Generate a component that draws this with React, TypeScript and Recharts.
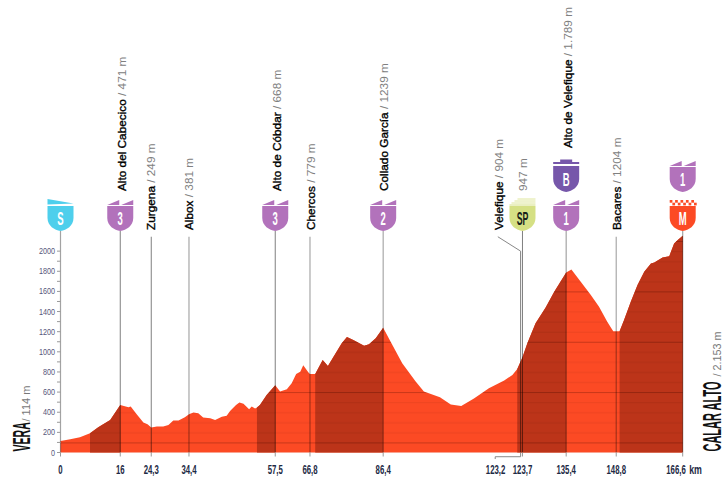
import {Area, ComposedChart, ReferenceDot, ReferenceLine, XAxis, YAxis} from "recharts";

// profile: km / metres
const km = [
    0, 2.6, 5.2, 7.9, 10.1, 13.3, 16, 18.2, 18.8, 20.4, 22.2, 23.3, 24.3, 25.8, 27.5, 28.9, 30.2, 31.6, 33.3, 34.4,
    35.6, 36.9, 38.2, 40.1, 41.4, 43.2, 44.5, 45.4, 47, 47.9, 49, 50.5, 51.2, 52.1, 52.6, 53.4, 55.2, 57.5, 58.8, 60.6,
    61.9, 63.1, 64.2, 65, 66.4, 66.8, 68.2, 70.2, 71.6, 73.1, 75.3, 76.7, 78.4, 81.3, 82.6, 84.4, 86.4, 88.4, 91.5, 95.1,
    97.3, 101.6, 104.5, 107.3, 110.7, 114.7, 118.8, 121, 122.3, 123.2, 123.7, 125, 127.2, 129.9, 132.2, 135.4, 136.8, 139.3, 142, 144.2,
    146.4, 148, 148.8, 149.7, 150.9, 152.7, 154.5, 156.3, 158.1, 159, 161.2, 163, 164.3, 165.2, 166.6,
];
const altitude = [
    114, 132, 152, 192, 251, 324, 471, 450, 456, 380, 297, 280, 249, 258, 258, 274, 317, 317, 350, 381,
    397, 390, 347, 340, 324, 354, 364, 413, 473, 496, 483, 430, 456, 437, 446, 473, 572, 668, 605, 628,
    688, 780, 803, 866, 794, 779, 780, 919, 860, 952, 1084, 1147, 1117, 1060, 1074, 1134, 1239, 1101, 886, 704,
    605, 549, 476, 463, 536, 638, 714, 770, 830, 904, 947, 1084, 1283, 1441, 1597, 1789, 1818, 1696, 1564, 1448,
    1299, 1204, 1204, 1204, 1316, 1498, 1663, 1795, 1878, 1888, 1937, 1950, 2076, 2109, 2153,
];
const climbs = [[7.9, 16], [52.6, 57.5], [68.2, 86.4], [122.3, 135.4], [149.7, 166.6]];

const xTicks = [0, 16, 24.3, 34.4, 57.5, 66.8, 86.4, 123.2, 123.7, 135.4, 148.8, 166.6];
const yTicks = [0, 100, 200, 300, 400, 500, 600, 700, 800, 900, 1000, 1100, 1200, 1300, 1400, 1500, 1600, 1700, 1800, 1900, 2000];

const placeKm = [16, 24.3, 34.4, 57.5, 66.8, 86.4, 123.2, 123.7, 135.4, 148.8];
const placeNames = ["Alto del Cabecico", "Zurgena", "Albox", "Alto de Cóbdar", "Chercos", "Collado García", "Velefique", "", "Alto de Velefique", "Bacares"];
const placeHeights = ["471 m", "249 m", "381 m", "668 m", "779 m", "1239 m", "904 m", "947 m", "1.789 m", "1204 m"];

// layout: altitude on the y scale used to stand things above the profile
const LOW = 2200;
const HIGH = 2587;
const TOP = 3014;
const STEM = 2143;

const labelBase = [HIGH, LOW, LOW, HIGH, LOW, HIGH, LOW, HIGH, TOP, LOW];
const labelShift = [5.5, 4, 4, 5.5, 5, 5, -17.5, 4.8, 5.8, 4.5];

const badges = [
    {km: 0, kind: "start", text: "S", base: LOW},
    {km: 16, kind: "climb", text: "3", base: LOW},
    {km: 57.5, kind: "climb", text: "3", base: LOW},
    {km: 86.4, kind: "climb", text: "2", base: LOW},
    {km: 123.7, kind: "sprint", text: "SP", base: LOW},
    {km: 135.4, kind: "climb", text: "1", base: LOW},
    {km: 135.4, kind: "bonus", text: "B", base: HIGH},
    {km: 166.6, kind: "finish", text: "M", base: LOW},
    {km: 166.6, kind: "climb", text: "1", base: HIGH},
];

const stems = [
    {km: 0, top: LOW, opacity: 0.36, width: 1.2},
    {km: 16, top: LOW, opacity: 0.5, width: 1},
    {km: 24.3, top: STEM, opacity: 0.5, width: 1},
    {km: 34.4, top: STEM, opacity: 0.3, width: 1.4},
    {km: 57.5, top: LOW, opacity: 0.5, width: 1},
    {km: 66.8, top: STEM, opacity: 0.26, width: 1.6},
    {km: 86.4, top: LOW, opacity: 0.34, width: 1.2},
    {km: 123.2, top: 2000, opacity: 0.5, width: 1},
    {km: 123.7, top: LOW, opacity: 0.5, width: 1},
    {km: 135.4, top: LOW, opacity: 0.36, width: 1.2},
    {km: 148.8, top: STEM, opacity: 0.34, width: 1.2},
    {km: 166.6, top: LOW, opacity: 0.36, width: 1.2},
];

const data = km.map((k, i) => ({
    km: k,
    alt: altitude[i],
    climb: climbs.some(([a, b]) => k >= a && k <= b) ? altitude[i] : null,
}));

const FONT = '"Liberation Sans", Arial, sans-serif';
const PX_PER_M = 443 / 4400;
const BASE_Y = 452.5;
const BAND = 100 * PX_PER_M;

function Squeezed({x, y, size, squeeze, rotate = 0, anchor = "start", weight = "normal", fill = "#000", children}: any) {
    return <text transform={`translate(${x} ${y}) rotate(${rotate}) scale(${squeeze} 1)`} fontFamily={FONT} fontSize={size}
                 fontWeight={weight} fill={fill} textAnchor={anchor}>{children}</text>
}

function XTick({x, y, payload}: any) {
    const v = payload.value;
    const label = String(v).replace(".", ",");
    const shifted = v === 123.2;
    const last = v === 166.6;
    return <g>
        {!shifted && <line x1={x} x2={x} y1={y} y2={y + 4} stroke="#999" strokeWidth={1}/>}
        <Squeezed x={shifted ? x - 25 : last ? x - 6.7 : x} y={y + 21} size={13} squeeze={0.6} anchor="middle" weight="bold" fill="#1d2a45">{label}</Squeezed>
        {last && <Squeezed x={x + 6.5} y={y + 21} size={13} squeeze={0.68} weight="bold" fill="#1d2a45">km</Squeezed>}
    </g>
}

function YTick({x, y, payload}: any) {
    const v = payload.value;
    return <g>
        <line x1={x - 3.5} x2={x} y1={y} y2={y} stroke="#999" strokeWidth={1}/>
        {v % 200 === 0 && <Squeezed x={x - 5.5} y={y + 3} size={8.5} squeeze={0.85} anchor="end" fill="#55557a">{v}</Squeezed>}
    </g>
}

function Badge({cx, cy, kind, text}: any) {
    const colours: any = {start: "#4ecfec", climb: "#b272bb", sprint: "#d5e084", bonus: "#7657aa", finish: "#fc4a24"};
    const fill = colours[kind];
    const body = kind === "bonus" ? -26 : -25;
    const shield = `M-13 ${body}H13V-13C13 -5 6 -1 0 0C-6 -1 -13 -5 -13 -13Z`;
    return <g transform={`translate(${cx} ${cy})`}>
        <path d={shield} fill={fill}/>
        {kind === "climb" && <>
            <path d="M-13 -26L-1 -31V-26Z" fill={fill}/>
            <path d="M1 -26L13 -31V-26Z" fill={fill}/>
        </>}
        {kind === "start" && <path d="M-13 -32L13 -27.5L-13 -26.5Z" fill={fill}/>}
        {kind === "sprint" && <>
            <path d="M-5 -32H13M-8 -30H13M-11 -28H13" stroke={fill} strokeWidth={0.8}/>
            <path d="M-13 -26H13" stroke={fill} strokeWidth={1}/>
        </>}
        {kind === "bonus" && <path d="M-13 -28V-30H-6V-32.5H6V-30H13V-28Z" fill={fill}/>}
        {kind === "finish" && [0, 1, 2, 3, 4].map(i => <g key={i}>
            <rect x={-13 + i * 5.4} y={-31} width={2.7} height={2.7} fill={fill}/>
            <rect x={-10.3 + i * 5.4} y={-28.3} width={2.7} height={2.7} fill={fill}/>
        </g>)}
        <Squeezed x={0} y={-6.5} size={19} squeeze={kind === "sprint" ? 0.46 : 0.5} anchor="middle" weight="bold"
                  fill={kind === "sprint" ? "#17201a" : "#fff"}>{text}</Squeezed>
    </g>
}

function PlaceLabel({cx, cy, shift, name, height}: any) {
    const x = cx + shift;
    return <text transform={`translate(${x} ${cy - 1}) rotate(-90)`} fontFamily={FONT} fontSize={11.8}>
        {name && <tspan fill="#000" stroke="#000" strokeWidth={0.35}>{name} </tspan>}
        <tspan fill="#808080">{name ? "/ " : ""}{height}</tspan>
    </text>
}

export default function App() {
    return <div style={{position: "absolute", left: 0, top: 0, width: 728, height: 490, background: "#fff"}}>
        <ComposedChart width={728} height={490} data={data} margin={{top: 9.5, right: 45.3, bottom: 7.5, left: 0.5}}>
            <defs>
                <pattern id="bandLight" patternUnits="userSpaceOnUse" width={4} height={BAND * 5} y={BASE_Y - 600 * PX_PER_M}>
                    <rect width={4} height={BAND * 5} fill="#fc4a24"/>
                    {[0, 1, 2, 3, 4].map(i => <rect key={i} y={i * BAND} width={4} height={1} fill="#7a1a05" opacity={i === 0 ? 0.4 : 0.12}/>)}
                </pattern>
                <pattern id="bandDark" patternUnits="userSpaceOnUse" width={4} height={BAND * 5} y={BASE_Y - 600 * PX_PER_M}>
                    <rect width={4} height={BAND * 5} fill="#bc3419"/>
                    {[0, 1, 2, 3, 4].map(i => <rect key={i} y={i * BAND} width={4} height={1} fill="#5a1000" opacity={i === 0 ? 0.4 : 0.14}/>)}
                </pattern>
            </defs>
            <XAxis dataKey="km" type="number" domain={[0, 166.6]} ticks={xTicks} interval={0} height={30}
                   axisLine={false} tickLine={false} tickSize={0} tickMargin={0} tick={<XTick/>}/>
            <YAxis type="number" domain={[0, 4400]} ticks={yTicks} interval={0} width={60}
                   axisLine={false} tickLine={false} tickSize={0} tickMargin={0} tick={<YTick/>}/>
            <Area dataKey="alt" type="linear" stroke="none" fill="url(#bandLight)" fillOpacity={1} dot={false} activeDot={false} isAnimationActive={false}/>
            <Area dataKey="climb" type="linear" stroke="none" fill="url(#bandDark)" fillOpacity={1} dot={false} activeDot={false} isAnimationActive={false}/>
            {stems.map(s => <ReferenceLine key={s.km} segment={[{x: s.km, y: 0}, {x: s.km, y: s.top}]} ifOverflow="visible"
                                           stroke="#000" strokeOpacity={s.opacity} strokeWidth={s.width}/>)}
            <ReferenceLine segment={[{x: 123.2, y: 2000}, {x: 117.1, y: 2143}]} ifOverflow="visible" stroke="#888" strokeWidth={1}/>
            <ReferenceLine segment={[{x: 123.2, y: 0}, {x: 123.2, y: -42}]} ifOverflow="visible" stroke="#888" strokeWidth={1}/>
            <ReferenceLine segment={[{x: 123.2, y: -42}, {x: 116.4, y: -42}]} ifOverflow="visible" stroke="#888" strokeWidth={1}/>
            <ReferenceLine segment={[{x: 116.4, y: -42}, {x: 116.4, y: -65}]} ifOverflow="visible" stroke="#888" strokeWidth={1}/>
            {placeKm.map((k, i) => <ReferenceDot key={k} x={k} y={labelBase[i]} ifOverflow="visible"
                shape={(p: any) => <PlaceLabel cx={p.cx} cy={p.cy} shift={labelShift[i]} name={placeNames[i]} height={placeHeights[i]}/>}/>)}
            {badges.map(b => <ReferenceDot key={b.km + b.kind} x={b.km} y={b.base} ifOverflow="visible"
                shape={(p: any) => <Badge cx={p.cx} cy={p.cy} kind={b.kind} text={b.text}/>}/>)}
            <ReferenceDot x={0} y={0} ifOverflow="visible" shape={(p: any) => <g>
                <Squeezed x={p.cx - 31} y={p.cy - 1} rotate={-90} size={24} squeeze={0.44} weight="bold" fill="#111">VERA</Squeezed>
                <Squeezed x={p.cx - 31} y={p.cy - 31} rotate={-90} size={10.5} squeeze={1.05} fill="#777">/ 114 m</Squeezed>
            </g>}/>
            <ReferenceDot x={166.6} y={0} ifOverflow="visible" shape={(p: any) => <g>
                <Squeezed x={p.cx + 38} y={p.cy - 1} rotate={-90} size={25} squeeze={0.44} weight="bold" fill="#111">CALAR ALTO</Squeezed>
                <Squeezed x={p.cx + 38} y={p.cy - 76} rotate={-90} size={10.5} squeeze={1.03} fill="#777">/ 2.153 m</Squeezed>
            </g>}/>
        </ComposedChart>
    </div>
}
